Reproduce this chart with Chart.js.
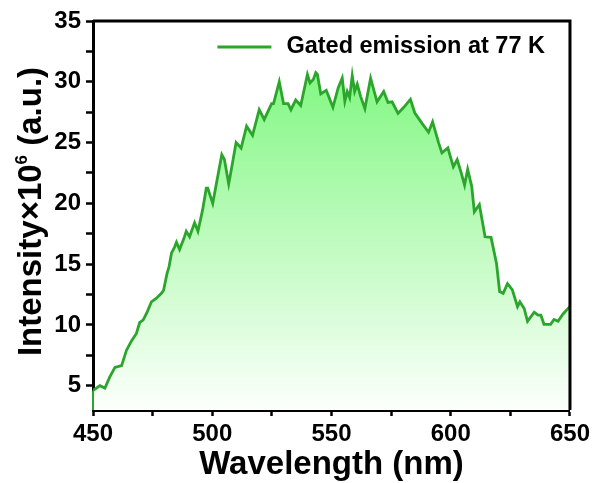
<!DOCTYPE html>
<html>
<head>
<meta charset="utf-8">
<script src="https://cdn.jsdelivr.net/npm/chart.js@4.4.1/dist/chart.umd.min.js"></script>
<style>
  html, body { margin: 0; padding: 0; background: #fff; }
  canvas { display: block; }
</style>
</head>
<body>
<canvas id="chart" width="594" height="483"></canvas>
<script>
// emission spectrum
const wavelengths = [
  450, 452.9, 455, 457, 459.2, 462, 464, 466.2, 468.2, 469.6, 471, 472.7, 474.5, 476.6, 478.7, 479.6,
  481, 481.9, 482.9, 484.2, 485, 486.3, 488.1, 489.1, 490.5, 492.6, 494, 496, 497.5, 498.1, 500.2,
  504, 505.1, 506.9, 508.2, 510, 512.1, 514.4, 516.9, 519.7, 521.8, 524.9, 525.7, 528.1, 529.9,
  531.8, 533, 535, 537.1, 539.9, 541, 542.4, 543.4, 544.1, 545.5, 547.8, 550.6, 552.8, 554.5,
  555.6, 556.6, 557.6, 558.7, 559.7, 560.8, 562.2, 564, 566.4, 569.1, 571.9, 573.7, 575.4, 577.9,
  580.3, 583.1, 584.9, 587.9, 590.7, 592.4, 594.9, 596.3, 598.8, 601.1, 602.7, 604.4, 605.8,
  607.1, 608.8, 609.9, 612, 614.4, 616.9, 619.2, 620.5, 622, 623.8, 625.8, 628, 629, 630.8,
  632.2, 635, 636.6, 637.8, 639.1, 641.9, 643.3, 645, 647.1, 649.4, 650
];
const intensity = [
  4.6, 5.0, 4.8, 5.7, 6.5, 6.65, 7.9, 8.7, 9.3, 10.2, 10.4, 11.05, 11.9, 12.2, 12.6, 12.85,
  14.2, 14.8, 15.9, 16.4, 16.8, 16.2, 17.1, 17.7, 17.25, 18.4, 17.7, 19.5, 21.25, 21.25, 20.0,
  24.0, 23.6, 21.6, 23.0, 25.0, 24.55, 26.35, 25.6, 27.7, 26.9, 28.2, 28.2, 30.0, 28.2,
  28.2, 27.7, 28.5, 28.05, 30.6, 29.9, 30.2, 30.75, 30.6, 29.0, 29.3, 27.9, 29.5, 30.3,
  28.4, 29.2, 28.7, 30.5, 29.2, 29.8, 28.8, 27.8, 30.3, 28.35, 29.2, 28.3, 28.35, 27.4,
  27.9, 28.55, 27.45, 26.6, 25.85, 26.7, 25.0, 24.15, 24.55, 23.0, 23.6, 22.5, 21.5,
  22.8, 21.4, 19.3, 19.9, 17.25, 17.2, 15.05, 12.75, 12.6, 13.4, 12.9, 11.5, 11.9, 11.35,
  10.3, 11.05, 10.8, 10.8, 10.05, 10.05, 10.45, 10.3, 10.9, 11.4, 11.5
];
const seriesLabel = 'Gated emission at 77 K';
const xTicks = [450, 500, 550, 600, 650];
const yTicks = [5, 10, 15, 20, 25, 30, 35];
const yTitle = ['Intensity×10', '6', ' (a.u.)'];

const lineColor = 'rgb(43,165,43)';
const font = 'Arial, "Liberation Sans", sans-serif';

// top/right frame lines, the area's closing edges, the in-plot legend and y title
const framePlugin = {
  id: 'frame',
  afterDatasetsDraw(chart) {
    const { ctx, chartArea } = chart;
    const ds = chart.data.datasets[0];
    const pts = chart.getDatasetMeta(0).data;
    ctx.save();
    ctx.strokeStyle = lineColor;
    ctx.lineWidth = 2;
    [pts[0], pts[pts.length - 1]].forEach(p => {
      ctx.beginPath();
      ctx.moveTo(p.x, p.y);
      ctx.lineTo(p.x, chartArea.bottom);
      ctx.stroke();
    });
    ctx.strokeStyle = '#000';
    ctx.lineWidth = 3;
    ctx.beginPath();
    ctx.moveTo(chartArea.left, chartArea.top);
    ctx.lineTo(chartArea.right, chartArea.top);
    ctx.lineTo(chartArea.right, chartArea.bottom);
    ctx.stroke();

    // legend
    ctx.font = 'bold 23.5px ' + font;
    ctx.textBaseline = 'middle';
    ctx.fillStyle = '#000';
    const tw = ctx.measureText(ds.label).width;
    const tx = chartArea.right - 25 - tw;
    const ly = chartArea.top + 26;
    ctx.fillText(ds.label, tx, ly);
    ctx.strokeStyle = ds.borderColor;
    ctx.lineWidth = ds.borderWidth;
    ctx.beginPath();
    ctx.moveTo(tx - 69, ly);
    ctx.lineTo(tx - 15, ly);
    ctx.stroke();

    // y title with a real superscript
    const big = 'bold 33px ' + font, small = 'bold 17px ' + font;
    ctx.font = big;
    const w1 = ctx.measureText(yTitle[0]).width;
    const w3 = ctx.measureText(yTitle[2]).width;
    ctx.font = small;
    const w2 = ctx.measureText(yTitle[1]).width;
    const total = w1 + w2 + w3;
    ctx.translate(29, (chartArea.top + chartArea.bottom) / 2 - 4);
    ctx.rotate(-Math.PI / 2);
    ctx.textBaseline = 'alphabetic';
    ctx.textAlign = 'left';
    const base = 11.8;
    let x = -total / 2;
    ctx.font = big;
    ctx.fillText(yTitle[0], x, base);
    x += w1;
    ctx.font = small;
    ctx.fillText(yTitle[1], x, base - 13.4);
    x += w2;
    ctx.font = big;
    ctx.fillText(yTitle[2], x, base);
    ctx.restore();
  }
};

const ctx = document.getElementById('chart').getContext('2d');
new Chart(ctx, {
  type: 'line',
  data: {
    datasets: [{
      label: seriesLabel,
      data: wavelengths.map((w, i) => ({ x: w, y: intensity[i] })),
      borderColor: lineColor,
      borderWidth: 2.8,
      pointRadius: 0,
      tension: 0,
      fill: 'start',
      backgroundColor(c) {
        const area = c.chart.chartArea;
        if (!area) return 'rgba(0,0,0,0)';
        const g = c.chart.ctx.createLinearGradient(0, area.top, 0, area.bottom);
        g.addColorStop(0, 'rgb(115,243,115)');
        g.addColorStop(0.2, 'rgb(140,248,140)');
        g.addColorStop(1, 'rgb(252,255,252)');
        return g;
      }
    }]
  },
  options: {
    responsive: false,
    animation: false,
    layout: { padding: { top: 21, right: 21, left: 0, bottom: 0 } },
    plugins: {
      tooltip: { enabled: false },
      legend: { display: false }
    },
    scales: {
      x: {
        type: 'linear',
        min: 450,
        max: 650,
        afterFit(s) { s.height = 73; },
        ticks: {
          stepSize: 25,
          autoSkip: false,
          maxRotation: 0,
          padding: 4,
          color: '#000',
          font: { family: font, size: 24, weight: 'bold' },
          callback: v => xTicks.includes(v) ? v : ''
        },
        grid: { drawOnChartArea: false, drawTicks: true, tickLength: 6, tickWidth: 2.5, tickColor: '#000' },
        border: { display: true, width: 3, color: '#000' },
        title: {
          display: true,
          text: 'Wavelength (nm)',
          color: '#000',
          padding: 0,
          font: { family: font, size: 33, weight: 'bold', lineHeight: 1.1 }
        }
      },
      y: {
        min: 3,
        max: 35,
        afterFit(s) { s.width = 93; },
        afterBuildTicks(s) { s.ticks = s.ticks.filter(t => t.value % 2.5 === 0); },
        ticks: {
          stepSize: 2.5,
          autoSkip: false,
          padding: 5,
          color: '#000',
          font: { family: font, size: 24, weight: 'bold' },
          callback: v => yTicks.includes(v) ? v : ''
        },
        grid: { drawOnChartArea: false, drawTicks: true, tickLength: 7, tickWidth: 2.5, tickColor: '#000' },
        border: { display: true, width: 3, color: '#000' },
        title: { display: false }
      }
    }
  },
  plugins: [framePlugin]
});
</script>
</body>
</html>
